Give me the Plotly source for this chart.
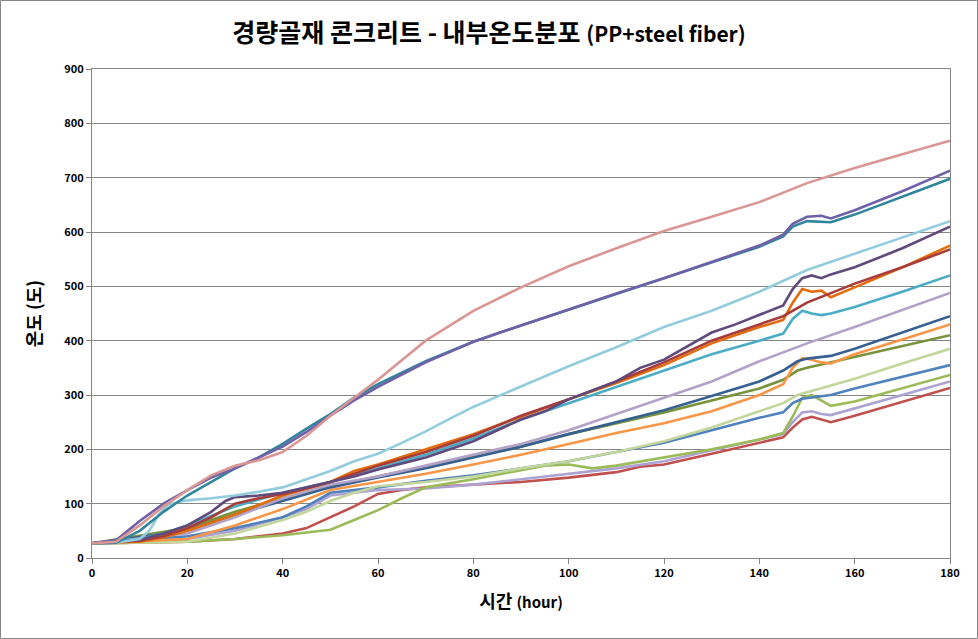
import plotly.graph_objects as go

# ---- data (hour, temperature °C) ----
pink_x = [0, 5, 10, 15, 20, 25, 30, 35, 40, 45, 50, 55, 60, 70, 80, 90, 100, 110, 120, 130, 140, 150, 160, 170, 180]
pink_y = [27, 30, 60, 95, 125, 152, 170, 180, 195, 225, 262, 295, 328, 400, 455, 498, 537, 570, 602, 628, 655, 690, 718, 743, 768]

purple_x = [0, 5, 10, 15, 20, 25, 30, 35, 40, 45, 50, 55, 60, 70, 80, 90, 100, 110, 120, 130, 140, 145, 147, 150, 153, 155, 160, 170, 180]
purple_y = [27, 32, 68, 100, 125, 148, 165, 185, 205, 232, 262, 290, 315, 360, 398, 428, 458, 487, 515, 545, 575, 595, 615, 628, 630, 625, 640, 675, 713]

teal_x = [0, 5, 10, 15, 20, 25, 30, 35, 40, 45, 50, 55, 60, 70, 80, 90, 100, 110, 120, 130, 140, 145, 147, 150, 155, 160, 170, 180]
teal_y = [27, 28, 50, 85, 115, 140, 165, 185, 210, 238, 265, 295, 320, 362, 398, 428, 457, 486, 514, 543, 573, 592, 610, 620, 618, 632, 665, 698]

lightblue_x = [0, 5, 10, 12, 14, 16, 18, 20, 25, 30, 35, 40, 45, 50, 55, 60, 65, 70, 75, 80, 85, 90, 100, 110, 120, 130, 140, 150, 160, 170, 180]
lightblue_y = [27, 28, 35, 50, 80, 98, 103, 106, 110, 115, 122, 130, 145, 160, 178, 192, 212, 233, 256, 278, 297, 316, 353, 388, 425, 455, 490, 530, 560, 590, 620]

darkpurple_x = [0, 10, 15, 20, 25, 28, 30, 35, 40, 45, 50, 55, 60, 70, 80, 90, 95, 100, 110, 115, 120, 125, 130, 135, 140, 145, 147, 149, 151, 153, 155, 160, 170, 180]
darkpurple_y = [27, 33, 45, 60, 85, 105, 112, 115, 120, 130, 140, 150, 163, 185, 215, 255, 270, 292, 325, 350, 365, 390, 415, 430, 448, 465, 495, 515, 520, 515, 522, 535, 570, 610]

redbrown_x = [0, 10, 15, 20, 25, 30, 35, 40, 45, 50, 55, 60, 70, 80, 90, 100, 110, 120, 130, 140, 145, 150, 160, 170, 180]
redbrown_y = [27, 32, 40, 55, 75, 100, 110, 118, 128, 140, 155, 170, 195, 225, 262, 292, 325, 360, 400, 430, 445, 470, 505, 535, 568]

orange1_x = [0, 10, 15, 20, 30, 40, 50, 55, 60, 70, 80, 90, 100, 110, 120, 130, 140, 145, 147, 149, 151, 153, 155, 160, 170, 180]
orange1_y = [27, 30, 38, 50, 80, 115, 140, 160, 172, 200, 228, 260, 292, 322, 355, 395, 425, 438, 470, 495, 490, 492, 480, 498, 535, 575]

aqua_x = [0, 10, 15, 20, 30, 40, 50, 60, 70, 80, 90, 100, 110, 120, 130, 140, 145, 147, 149, 151, 153, 155, 160, 170, 180]
aqua_y = [27, 35, 45, 60, 95, 120, 140, 165, 190, 220, 255, 285, 315, 345, 375, 400, 413, 440, 455, 450, 447, 450, 462, 490, 520]

lavender1_x = [0, 20, 30, 40, 50, 60, 70, 80, 90, 100, 110, 120, 130, 140, 150, 160, 170, 180]
lavender1_y = [27, 45, 75, 110, 135, 150, 170, 190, 210, 235, 265, 295, 325, 362, 395, 425, 457, 488]

blue1_x = [0, 20, 30, 40, 50, 60, 70, 80, 90, 100, 110, 120, 130, 140, 145, 148, 150, 155, 160, 170, 180]
blue1_y = [27, 50, 80, 105, 130, 148, 165, 185, 205, 228, 250, 272, 298, 325, 345, 362, 367, 372, 385, 415, 445]

orange2_x = [0, 20, 30, 40, 50, 60, 70, 80, 90, 100, 110, 120, 130, 140, 145, 147, 149, 151, 153, 155, 160, 170, 180]
orange2_y = [27, 35, 60, 90, 125, 140, 155, 172, 190, 210, 230, 248, 270, 300, 320, 350, 368, 365, 360, 358, 375, 402, 430]

green1_x = [0, 20, 30, 40, 50, 60, 70, 80, 90, 100, 110, 120, 130, 140, 145, 148, 150, 160, 170, 180]
green1_y = [27, 55, 85, 110, 132, 150, 168, 187, 205, 228, 248, 268, 290, 312, 328, 345, 350, 370, 390, 410]

lightgreen_x = [0, 20, 30, 40, 45, 50, 55, 60, 70, 80, 90, 100, 110, 120, 130, 140, 145, 148, 150, 160, 170, 180]
lightgreen_y = [27, 30, 45, 70, 85, 105, 120, 132, 140, 150, 165, 178, 195, 215, 240, 270, 285, 300, 305, 330, 358, 385]

blue2_x = [0, 20, 30, 40, 45, 50, 60, 70, 80, 90, 100, 110, 120, 130, 140, 145, 147, 149, 151, 155, 160, 170, 180]
blue2_y = [27, 40, 55, 75, 95, 120, 130, 142, 152, 165, 178, 195, 212, 235, 258, 268, 285, 293, 295, 300, 312, 333, 355]

green2_x = [0, 20, 30, 40, 45, 50, 55, 60, 65, 70, 80, 90, 95, 100, 105, 110, 120, 130, 140, 145, 147, 149, 151, 153, 155, 160, 170, 180]
green2_y = [27, 30, 35, 42, 47, 52, 70, 88, 110, 130, 145, 162, 170, 172, 165, 170, 185, 200, 218, 230, 260, 295, 300, 290, 280, 288, 312, 337]

lavender2_x = [0, 20, 30, 40, 45, 50, 60, 70, 80, 90, 100, 110, 120, 130, 140, 145, 147, 149, 151, 153, 155, 160, 170, 180]
lavender2_y = [27, 35, 50, 75, 90, 115, 125, 128, 135, 145, 155, 165, 178, 198, 218, 228, 250, 268, 270, 265, 263, 275, 300, 325]

red2_x = [0, 20, 30, 40, 45, 50, 55, 60, 65, 70, 80, 90, 100, 110, 115, 120, 130, 140, 145, 147, 149, 151, 153, 155, 160, 170, 180]
red2_y = [27, 30, 35, 45, 55, 75, 95, 118, 125, 130, 135, 140, 148, 158, 168, 172, 192, 212, 222, 240, 255, 260, 255, 250, 262, 288, 313]

series = [
    (red2_x, red2_y, "#C0504D"),
    (lavender2_x, lavender2_y, "#ADA3D3"),
    (green2_x, green2_y, "#9BBB59"),
    (blue2_x, blue2_y, "#4F81BD"),
    (lightgreen_x, lightgreen_y, "#C3D69B"),
    (green1_x, green1_y, "#77933C"),
    (orange2_x, orange2_y, "#F79646"),
    (blue1_x, blue1_y, "#376092"),
    (lavender1_x, lavender1_y, "#B3A2C7"),
    (aqua_x, aqua_y, "#4BACC6"),
    (orange1_x, orange1_y, "#E46C0A"),
    (redbrown_x, redbrown_y, "#A83C3A"),
    (darkpurple_x, darkpurple_y, "#604A7B"),
    (lightblue_x, lightblue_y, "#93CDDD"),
    (teal_x, teal_y, "#31859C"),
    (purple_x, purple_y, "#7060A8"),
    (pink_x, pink_y, "#D99694"),
]

fig = go.Figure()
for xs, ys, c in series:
    fig.add_trace(go.Scatter(x=xs, y=ys, mode="lines",
                             line=dict(color=c, width=2.6), showlegend=False))

font_family = "Noto Sans CJK KR, Noto Sans, sans-serif"
fig.update_layout(
    width=978, height=639,
    paper_bgcolor="white", plot_bgcolor="white",
    margin=dict(l=92, r=28, t=69, b=81),
    font=dict(family=font_family, color="black"),
    title=dict(text="<b>경량골재 콘크리트 - 내부온도분포 <span style='font-size:21px'>(PP+steel fiber)</span></b>",
               x=0.5, xanchor="center", y=0.948, yanchor="middle",
               font=dict(size=25, family=font_family, color="black")),
    xaxis=dict(range=[0, 180], tick0=0, dtick=20, showgrid=False, zeroline=False,
               showline=True, linecolor="#868686", linewidth=1, mirror=True,
               ticks="outside", ticklen=5, tickcolor="#868686",
               tickfont=dict(size=11, family=font_family, color="black"),
               title=dict(text="<b>시간 <span style='font-size:15px'>(hour)</span></b>",
                          font=dict(size=18, family=font_family), standoff=16)),
    yaxis=dict(range=[0, 900], tick0=0, dtick=100, showgrid=True, gridcolor="#868686",
               gridwidth=1, zeroline=False,
               showline=True, linecolor="#868686", linewidth=1, mirror=True,
               ticks="outside", ticklen=5, tickcolor="#868686",
               tickfont=dict(size=11, family=font_family, color="black"),
               title=dict(text="<b>온도 (도)</b>", font=dict(size=18, family=font_family), standoff=18)),
    shapes=[dict(type="rect", xref="paper", yref="paper", x0=-91.5/858, x1=1+27.5/858,
                 y0=-80.5/489, y1=1+68.5/489, line=dict(color="#868686", width=1))],
)
fig.update_xaxes(tickprefix="<b>", ticksuffix="</b>")
fig.update_yaxes(tickprefix="<b>", ticksuffix="</b>")

fig.write_html("out.html", config={"displayModeBar": False},
               post_script="document.body.style.margin='0';")
